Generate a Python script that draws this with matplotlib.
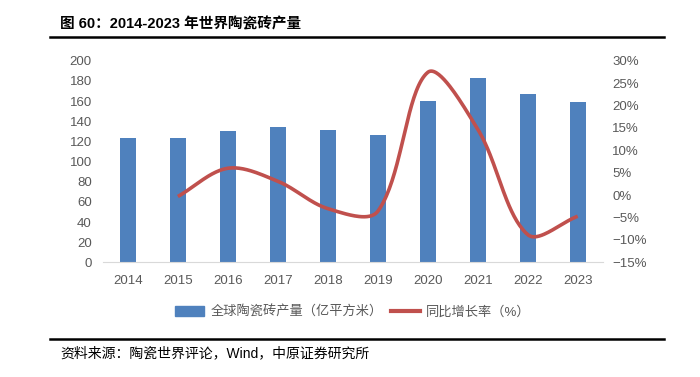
import matplotlib.pyplot as plt
import matplotlib.ticker as mticker
from matplotlib.lines import Line2D
from matplotlib.patches import Patch
import numpy as np

plt.rcParams['font.family'] = ['Liberation Sans', 'Noto Sans CJK SC', 'DejaVu Sans']

years = ['2014', '2015', '2016', '2017', '2018', '2019', '2020', '2021', '2022', '2023']
output = [123.6, 123, 130.2, 134.5, 131, 126, 160.3, 182.5, 167, 158.7]   # 亿平方米
growth = [None, -0.3, 6.0, 3.1, -3.0, -3.6, 27.4, 14.7, -8.8, -4.7]      # %

bar_color = '#4f81bd'
line_color = '#c0504d'
tick_color = '#595959'


def smooth(xs, ys, yscale, n=40):
    # smoothed line like Excel: bezier segments, control points scaled by chord length
    # (done in screen-like units so steep segments don't overshoot)
    P = np.column_stack([np.asarray(xs, float), np.asarray(ys, float) * yscale])
    m = len(P)
    d = np.linalg.norm(np.diff(P, axis=0), axis=1)
    out = []
    t = np.linspace(0, 1, n)[:, None]
    for i in range(m - 1):
        p1, p2 = P[i], P[i + 1]
        if i > 0:
            c1 = p1 + (p2 - P[i - 1]) * d[i] / (d[i - 1] + d[i]) / 3
        else:
            c1 = p1 + (p2 - p1) / 3
        if i + 2 < m:
            c2 = p2 - (P[i + 2] - p1) * d[i] / (d[i] + d[i + 1]) / 3
        else:
            c2 = p2 - (p2 - p1) / 3
        seg = ((1 - t) ** 3) * p1 + 3 * ((1 - t) ** 2) * t * c1 + 3 * (1 - t) * t ** 2 * c2 + t ** 3 * p2
        out.append(seg)
    out = np.vstack(out)
    return out[:, 0], out[:, 1] / yscale


fig = plt.figure(figsize=(7, 3.77), dpi=100)
ax = fig.add_axes([0.147, 0.304, 0.714, 0.535])
x = np.arange(len(years))
ax.bar(x, output, width=0.32, color=bar_color, zorder=2)
ax.set_xlim(-0.5, len(years) - 0.5)
ax.set_ylim(0, 200)
ax.yaxis.set_major_locator(mticker.MultipleLocator(20))
ax.set_xticks(x)
ax.set_xticklabels(years)

ax2 = ax.twinx()
gx = [i for i, g in enumerate(growth) if g is not None]
gy = [g for g in growth if g is not None]
# 50 px per category, ~4.47 px per percentage point
sx, sy = smooth(gx, gy, 4.47 / 50)
ax2.plot(sx, sy, color=line_color, lw=2.6, solid_capstyle='butt', zorder=3)
ax2.set_ylim(-15, 30)
ax2.yaxis.set_major_locator(mticker.MultipleLocator(5))
ax2.yaxis.set_major_formatter(mticker.FuncFormatter(
    lambda v, p: f'{v:.0f}%'.replace('-', '−')))

for a in (ax, ax2):
    for s in a.spines.values():
        s.set_visible(False)
    a.tick_params(length=0, labelsize=9.5, colors=tick_color)
ax.spines['bottom'].set_visible(True)
ax.spines['bottom'].set_color('#d9d9d9')
ax.tick_params(axis='x', pad=9)
ax.tick_params(axis='y', pad=8)
ax2.tick_params(axis='y', pad=7)

handles = [Patch(color=bar_color), Line2D([], [], color=line_color, lw=3)]
labels = ['全球陶瓷砖产量（亿平方米）', '同比增长率（%）']
fig.legend(handles, labels, loc='center', bbox_to_anchor=(0.504, 0.172), ncol=2,
           frameon=False, fontsize=9.5, labelcolor=tick_color, handlelength=2.2,
           handleheight=0.8, columnspacing=0.6, handletextpad=0.5)

fig.text(0.086, 0.936, '图 60：2014-2023 年世界陶瓷砖产量', fontsize=10.5, fontweight='bold',
         va='center', ha='left')
fig.add_artist(Line2D([0.072, 0.948], [0.902, 0.902], color='black', lw=1.8))
fig.add_artist(Line2D([0.072, 0.948], [0.100, 0.100], color='black', lw=1.8))
fig.text(0.086, 0.062, '资料来源：陶瓷世界评论，Wind，中原证券研究所', fontsize=10,
         va='center', ha='left')

fig.savefig('out.png', dpi=100)
